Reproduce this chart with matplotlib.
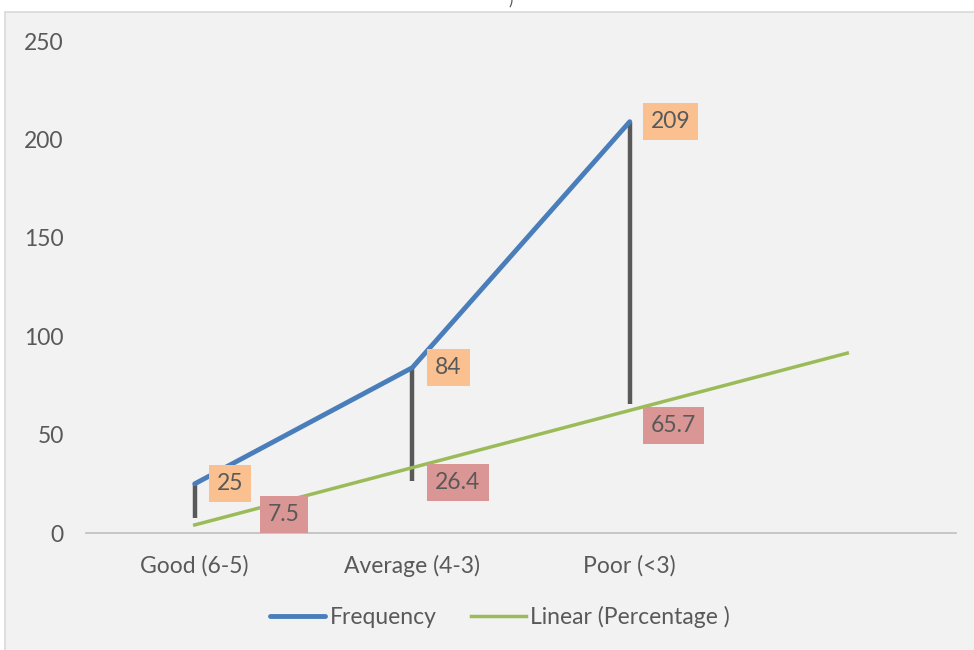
import numpy as np
import matplotlib.pyplot as plt
from matplotlib.patches import Rectangle
from matplotlib.lines import Line2D

plt.rcParams['font.family'] = ['Lato', 'DejaVu Sans']

categories = ["Good (6-5)", "Average (4-3)", "Poor (<3)"]
frequency = [25, 84, 209]
percentage = [7.5, 26.4, 65.7]
y_ticks = [0, 50, 100, 150, 200, 250]

text_grey = '#595959'
blue = '#4a7ebb'
green = '#9bbb59'
fs = 16.5

fig = plt.figure(figsize=(9.74, 6.5), dpi=100)
fig.patch.set_facecolor('white')

# grey chart panel under everything
fig.patches.append(Rectangle((5 / 974, -0.01), 1.0, (650 - 12) / 650 + 0.01,
                             transform=fig.transFigure, facecolor='#f2f2f2',
                             edgecolor='#d9d9d9', linewidth=1.2, zorder=0))
fig.text(511 / 974, 1.0, ")", ha='center', va='center', fontsize=12, color=text_grey)

ax = fig.add_axes([86 / 974, 1 - 533 / 650, (956 - 86) / 974, (533 - 41) / 650])
ax.set_facecolor('none')
ax.set_zorder(2)

x = np.arange(1, len(categories) + 1)

# high-low lines between the two series
ax.vlines(x, percentage, frequency, color=text_grey, linewidth=3.2, zorder=2)

ax.plot(x, frequency, color=blue, linewidth=3.5, solid_capstyle='round', zorder=3)

# linear trend of the percentage series, forecast one period forward
slope, intercept = np.polyfit(x, percentage, 1)
trend_x = np.array([1, len(categories) + 1])
ax.plot(trend_x, slope * trend_x + intercept, color=green, linewidth=2.5, zorder=3)

freq_offsets = [(22, 0), (23, 0), (21, 0)]
pct_offsets = [(73, 4), (23, -1), (21, -22)]
for xi, v, off in zip(x, frequency, freq_offsets):
    ax.annotate(f"{v:g}", (xi, v), xytext=off, textcoords='offset pixels',
                ha='left', va='center', fontsize=fs, color=text_grey, zorder=4,
                bbox=dict(boxstyle='square,pad=0.35', facecolor='#fac090', edgecolor='none'))
for xi, v, off in zip(x, percentage, pct_offsets):
    ax.annotate(f"{v:g}", (xi, v), xytext=off, textcoords='offset pixels',
                ha='left', va='center', fontsize=fs, color=text_grey, zorder=4,
                bbox=dict(boxstyle='square,pad=0.35', facecolor='#d99694', edgecolor='none'))

ax.set_xlim(0.5, len(categories) + 1.5)
ax.set_ylim(0, 250)
ax.set_xticks(x)
ax.set_xticklabels(categories)
ax.set_yticks(y_ticks)
ax.tick_params(axis='both', length=0, labelsize=fs, labelcolor=text_grey)
ax.tick_params(axis='x', pad=16)
ax.tick_params(axis='y', pad=16)
for side in ['top', 'right', 'left']:
    ax.spines[side].set_visible(False)
ax.spines['bottom'].set_color('#bfbfbf')
ax.spines['bottom'].set_linewidth(1.2)

handles = [Line2D([], [], color=blue, linewidth=3.5, solid_capstyle='round'),
           Line2D([], [], color=green, linewidth=2.5)]
fig.legend(handles, ["Frequency", "Linear (Percentage )"], loc='center',
           bbox_to_anchor=(500 / 974, 1 - 617 / 650), ncol=2, frameon=False,
           fontsize=fs, labelcolor=text_grey, handlelength=2.4,
           handletextpad=0.2, columnspacing=1.5)

fig.savefig('out.png', dpi=100)
